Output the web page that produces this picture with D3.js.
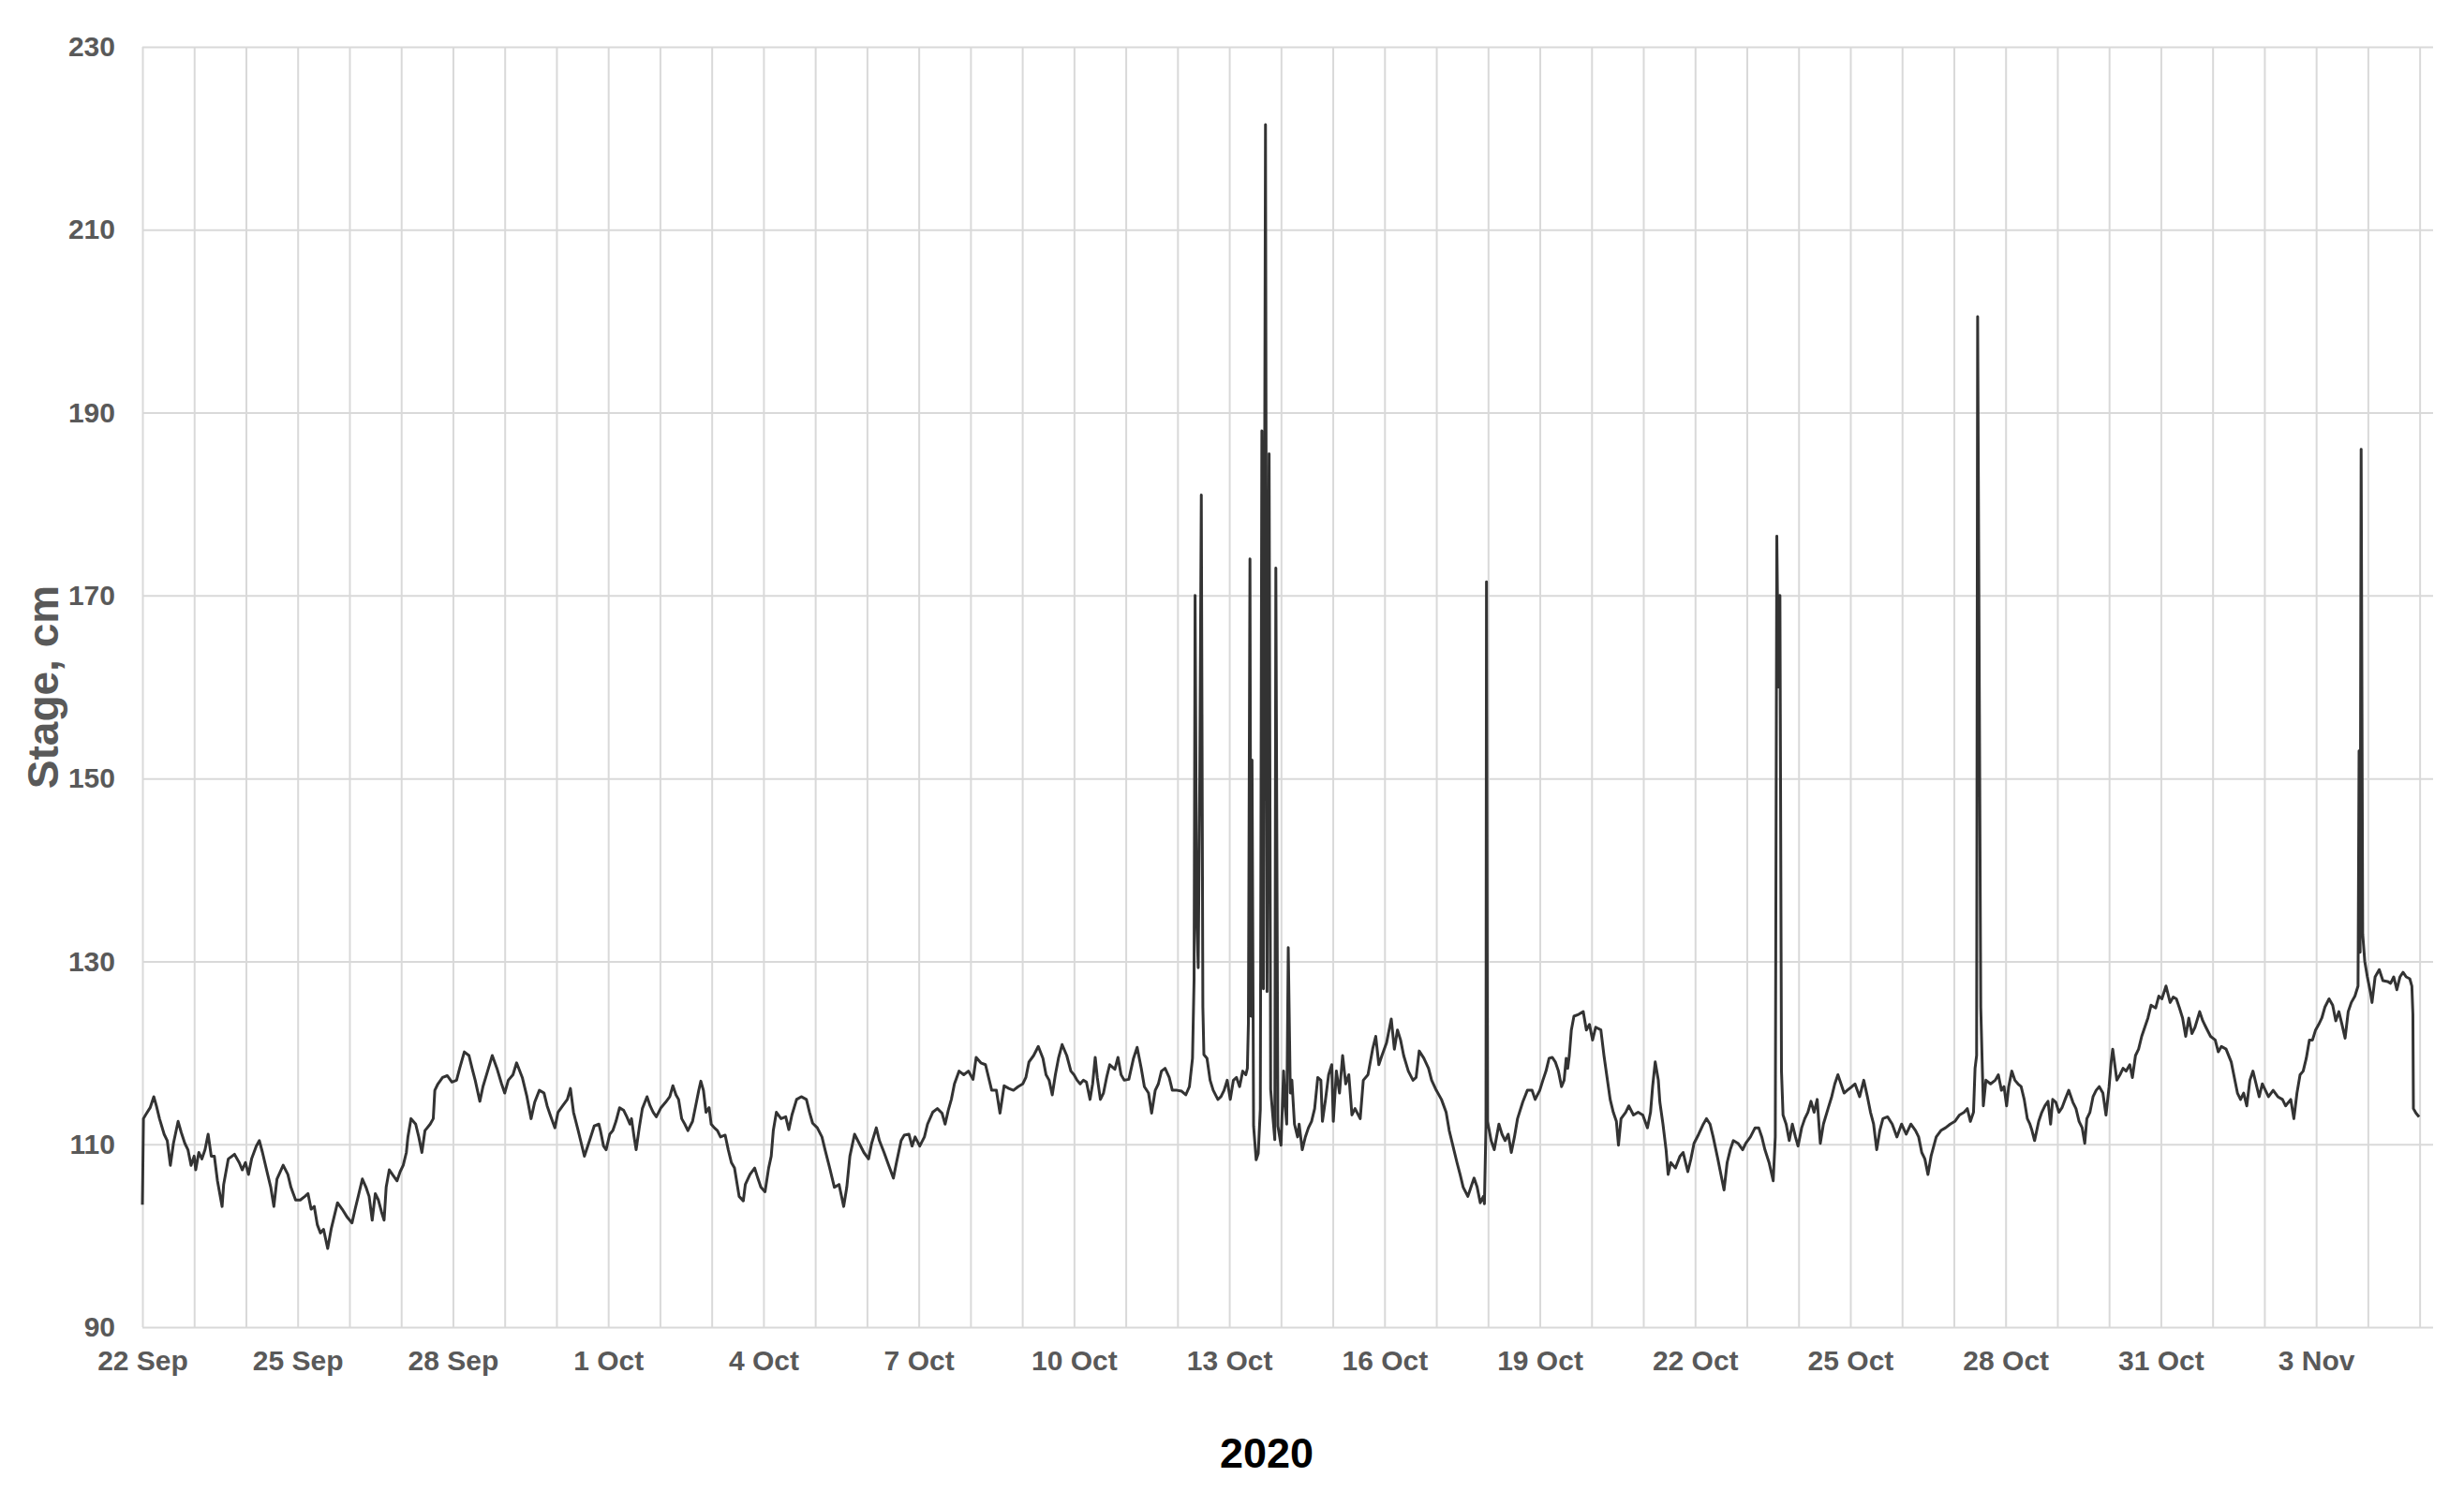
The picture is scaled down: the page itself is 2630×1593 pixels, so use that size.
<!DOCTYPE html>
<html>
<head>
<meta charset="utf-8">
<script src="https://cdn.jsdelivr.net/npm/d3@7"></script>
<style>
  body { margin: 0; background: #fff; }
  text { font-family: "Liberation Sans", Arial, sans-serif; }
</style>
</head>
<body>
<svg id="chart" width="2630" height="1593"></svg>
<script>
// start of the record, and how far the time axis runs (days)
const startDate = Date.UTC(2020, 8, 22);
const axisDays = 44.26;
const yTicks = [90, 110, 130, 150, 170, 190, 210, 230];
const labelStep = 3; // a date label every 3 days

// [days since 22 Sep 2020, stage in cm]
const sepEnd = [[0.00,103.4],[0.02,112.8],[0.06,113.2],[0.15,114.0],[0.22,115.2],[0.27,114.2],[0.33,112.8],[0.42,111.1],[0.48,110.4],[0.54,107.7],[0.60,110.1],[0.69,112.5],[0.75,111.3],[0.82,110.1],[0.88,109.4],[0.94,107.7],[1.00,108.7],[1.03,107.2],[1.09,109.1],[1.15,108.4],[1.21,109.4],[1.27,111.1],[1.33,108.7],[1.39,108.7],[1.45,106.0],[1.54,103.2],[1.57,105.6],[1.66,108.4],[1.78,108.9],[1.87,108.0],[1.93,107.2],[1.99,108.0],[2.05,106.7],[2.11,108.4],[2.20,109.8],[2.26,110.4],[2.32,109.1],[2.42,106.7],[2.48,105.3],[2.54,103.2],[2.60,106.2],[2.72,107.7],[2.81,106.7],[2.87,105.3],[2.96,103.9],[3.05,103.9],[3.14,104.3],[3.20,104.6],[3.26,102.9],[3.32,103.2],[3.38,101.2],[3.44,100.3],[3.50,100.7],[3.58,98.6],[3.65,100.8],[3.77,103.6],[3.86,102.9],[3.96,102.0],[4.05,101.4],[4.11,102.9],[4.17,104.3],[4.25,106.2],[4.32,105.3],[4.38,104.3],[4.44,101.7],[4.50,104.6],[4.56,103.9],[4.62,102.6],[4.67,101.7],[4.71,105.3],[4.77,107.2],[4.83,106.7],[4.92,106.0],[4.98,107.0],[5.04,107.7],[5.10,109.1],[5.13,110.8],[5.19,112.8],[5.28,112.2],[5.34,110.8],[5.40,109.1],[5.46,111.5],[5.56,112.2],[5.62,112.8],[5.65,115.9],[5.71,116.6],[5.80,117.3],[5.89,117.5],[5.98,116.8],[6.07,117.0],[6.13,118.3],[6.22,120.1],[6.31,119.7],[6.37,118.3],[6.43,117.0],[6.52,114.7],[6.58,116.3],[6.67,118.0],[6.76,119.7],[6.85,118.3],[6.94,116.6],[7.00,115.6],[7.07,117.0],[7.16,117.6],[7.23,118.9],[7.34,117.3],[7.43,115.2],[7.51,112.8],[7.58,114.6],[7.67,115.9],[7.76,115.6],[7.82,114.2],[7.88,113.2],[7.97,111.8],[8.03,113.5],[8.12,114.2],[8.21,114.9],[8.27,116.1],[8.33,113.5],[8.42,111.5],[8.48,110.1],[8.54,108.7],[8.64,110.4],[8.73,112.0],[8.82,112.2]];

const earlyOct = [[8.85,111.5],[8.91,109.8],[8.96,109.4],[9.03,111.1],[9.09,111.5],[9.15,112.5],[9.22,114.0],[9.30,113.7],[9.36,113.0],[9.42,112.2],[9.45,112.8],[9.50,110.8],[9.54,109.4],[9.60,111.8],[9.66,113.9],[9.75,115.2],[9.81,114.2],[9.87,113.5],[9.93,113.0],[10.02,114.0],[10.11,114.6],[10.19,115.2],[10.25,116.4],[10.31,115.4],[10.36,114.9],[10.42,112.8],[10.48,112.2],[10.54,111.5],[10.63,112.5],[10.69,114.2],[10.75,115.9],[10.79,116.9],[10.84,115.9],[10.89,113.5],[10.95,114.0],[10.99,112.2],[11.05,111.8],[11.11,111.5],[11.17,110.8],[11.26,111.0],[11.32,109.4],[11.38,108.0],[11.44,107.4],[11.53,104.3],[11.61,103.8],[11.65,105.6],[11.74,106.7],[11.83,107.4],[11.89,106.3],[11.95,105.3],[12.03,104.8],[12.10,107.4],[12.15,108.7],[12.19,111.5],[12.25,113.5],[12.34,112.8],[12.43,113.0],[12.49,111.6],[12.55,113.2],[12.64,114.9],[12.73,115.2],[12.83,114.9],[12.89,113.5],[12.95,112.3],[13.04,111.8],[13.13,110.8],[13.19,109.4],[13.28,107.4],[13.37,105.3],[13.46,105.6],[13.55,103.2],[13.61,105.3],[13.67,108.7],[13.76,111.1],[13.85,110.1],[13.94,109.1],[14.03,108.4],[14.09,110.1],[14.18,111.8],[14.24,110.4],[14.33,109.1],[14.42,107.7],[14.51,106.3],[14.57,108.0],[14.66,110.4],[14.72,111.0],[14.81,111.1],[14.87,109.8],[14.93,110.8],[15.02,109.8],[15.11,110.8],[15.17,112.2],[15.27,113.5],[15.36,113.9],[15.45,113.4],[15.51,112.2],[15.57,113.7],[15.63,114.9],[15.69,116.6],[15.78,118.0],[15.87,117.6],[15.96,118.0],[16.05,117.1],[16.11,119.5],[16.20,118.9],[16.29,118.7],[16.35,117.3],[16.41,115.9],[16.50,115.9],[16.57,113.4],[16.65,116.4],[16.74,116.1],[16.83,115.9],[16.92,116.3],[17.01,116.6],[17.07,117.3],[17.13,119.0],[17.22,119.7],[17.31,120.7],[17.40,119.4],[17.46,117.6],[17.52,117.0],[17.58,115.4],[17.64,117.6],[17.70,119.4],[17.77,120.9],[17.86,119.7]];

const midOct = [[17.94,118.0],[18.00,117.6],[18.06,117.0],[18.12,116.6],[18.18,117.0],[18.24,116.8],[18.31,114.9],[18.36,116.6],[18.41,119.5],[18.45,117.3],[18.51,114.9],[18.57,115.6],[18.63,117.3],[18.69,118.7],[18.79,118.2],[18.85,119.5],[18.91,117.6],[18.97,117.0],[19.06,117.1],[19.15,119.4],[19.22,120.6],[19.30,118.3],[19.36,116.3],[19.44,115.6],[19.50,113.4],[19.57,115.9],[19.63,116.6],[19.69,118.0],[19.76,118.3],[19.84,117.3],[19.90,115.9],[19.99,115.9],[20.08,115.8],[20.16,115.4],[20.23,116.3],[20.29,119.4],
  [20.32,128.0],[20.34,170.0],[20.37,135.0],[20.40,129.3],[20.43,150.0],[20.46,181.0],[20.49,125.0],
  [20.51,119.8],[20.57,119.4],[20.63,117.0],[20.69,115.9],[20.78,114.9],[20.84,115.2],[20.90,115.9],[20.96,117.0],[21.02,114.9],[21.08,117.0],[21.14,117.3],[21.20,116.3],[21.26,118.0],[21.32,117.6],[21.35,118.3],
  [21.37,123.3],[21.40,174.0],[21.42,124.0],[21.44,152.0],[21.47,112.0],[21.52,108.3],[21.56,109.0],[21.60,113.8],[21.63,188.0],[21.66,127.0],[21.70,221.5],[21.73,126.7],[21.77,185.5],[21.80,116.0],[21.84,113.2],[21.88,110.5],[21.90,173.0],[21.94,112.0],
  [22.00,109.9],[22.05,118.0],[22.08,114.2],[22.11,112.2],[22.14,131.5],[22.18,115.6],[22.21,117.0],[22.26,112.2],[22.32,110.8],[22.35,112.2],[22.41,109.4],[22.47,110.8],[22.53,111.8],[22.59,112.5],[22.65,113.9],[22.71,117.3],[22.77,117.0],[22.80,112.5],[22.86,114.9],[22.92,117.6],[22.98,118.7],[23.01,112.5],[23.07,118.0],[23.13,115.6],[23.19,119.7],[23.25,116.6],[23.31,117.6],[23.37,113.2],[23.43,113.9],[23.53,112.8],[23.59,117.0],[23.68,117.6],[23.77,120.4],[23.83,121.8],[23.89,118.7],[23.95,119.7],[24.04,121.1],[24.13,123.7],[24.19,120.4],[24.25,122.5],[24.31,121.4],[24.37,119.7],[24.46,118.0],[24.55,117.0],[24.61,117.3],[24.67,120.2],[24.76,119.4],[24.85,118.3],[24.91,117.0],[25.00,115.9],[25.10,114.9],[25.19,113.5],[25.25,111.5],[25.34,109.4],[25.40,108.0],[25.46,106.7],[25.52,105.3],[25.61,104.3],[25.67,105.3],[25.73,106.3],[25.79,105.3],[25.85,103.6],[25.91,104.3],[25.93,103.5],[25.96,112.0],[25.97,171.5],[25.99,112.5],[26.06,110.4],[26.12,109.4],[26.21,112.2],[26.27,111.1],[26.33,110.4],[26.39,111.1],[26.45,109.1],[26.51,110.8],[26.57,112.8],[26.67,114.6],[26.76,115.9],[26.85,115.9],[26.91,114.9]];

const lateOct = [[27.00,115.9],[27.06,117.0],[27.12,118.0],[27.18,119.4],[27.24,119.5],[27.30,119.0],[27.36,118.0],[27.42,116.3],[27.47,117.0],[27.51,119.4],[27.54,118.3],[27.57,119.7],[27.61,122.5],[27.66,124.0],[27.75,124.2],[27.84,124.5],[27.90,122.5],[27.96,123.1],[28.02,121.4],[28.08,122.8],[28.18,122.5],[28.24,119.7],[28.30,117.3],[28.36,114.9],[28.42,113.5],[28.48,112.5],[28.52,109.9],[28.57,112.8],[28.66,113.5],[28.72,114.2],[28.81,113.2],[28.90,113.5],[28.99,113.2],[29.08,111.8],[29.14,113.5],[29.18,116.3],[29.23,119.0],[29.29,117.0],[29.32,114.6],[29.38,112.2],[29.44,109.4],[29.48,106.7],[29.53,108.0],[29.62,107.4],[29.71,108.7],[29.77,109.1],[29.86,107.0],[29.92,108.4],[29.98,110.1],[30.07,111.1],[30.16,112.2],[30.22,112.8],[30.29,112.2],[30.35,110.8],[30.44,108.4],[30.50,106.7],[30.56,105.0],[30.62,108.0],[30.68,109.4],[30.74,110.4],[30.83,110.1],[30.92,109.4],[30.98,110.1],[31.07,110.8],[31.16,111.8],[31.23,111.8],[31.29,110.8],[31.35,109.4],[31.43,108.0],[31.51,106.0],[31.55,110.8],
  [31.58,176.5],[31.61,160.0],[31.64,170.0],[31.67,118.0],
  [31.70,113.2],[31.76,112.2],[31.82,110.4],[31.88,112.2],[31.94,110.8],[31.99,109.8],[32.06,111.8],[32.12,112.8],[32.18,113.5],[32.24,114.7],[32.30,113.5],[32.36,114.9],[32.42,110.1],[32.48,112.2],[32.57,113.9],[32.64,115.2],[32.70,116.6],[32.76,117.6],[32.82,116.6],[32.88,115.6],[32.94,115.9],[33.03,116.3],[33.09,116.6],[33.18,115.2],[33.26,117.0],[33.33,115.2],[33.39,113.5],[33.45,112.2],[33.51,109.4],[33.57,111.5],[33.63,112.8],[33.72,113.0],[33.81,112.2],[33.90,110.8],[33.99,112.2],[34.08,111.1],[34.17,112.2],[34.26,111.5],[34.32,110.8],[34.38,109.1],[34.44,108.4],[34.50,106.7],[34.56,108.7],[34.66,110.8],[34.75,111.5],[34.84,111.8],[34.93,112.2],[35.02,112.5],[35.11,113.2],[35.20,113.5],[35.26,113.9],[35.32,112.5],[35.38,113.5],[35.41,118.3],[35.44,119.7],
  [35.46,200.5],[35.52,125.0],[35.57,114.2],[35.62,117.0],[35.71,116.6],[35.80,117.0],[35.86,117.6],[35.92,115.9],[35.97,116.3]];

const earlyNov = [[36.02,114.2],[36.06,116.3],[36.12,118.0],[36.18,117.0],[36.24,116.6],[36.30,116.3],[36.36,114.9],[36.42,112.8],[36.47,112.2],[36.51,111.5],[36.56,110.4],[36.64,112.5],[36.70,113.5],[36.76,114.2],[36.82,114.7],[36.87,112.2],[36.91,114.9],[36.97,114.6],[37.03,113.5],[37.09,114.0],[37.15,114.9],[37.22,115.9],[37.30,114.6],[37.36,113.9],[37.42,112.5],[37.48,111.8],[37.53,110.1],[37.57,112.8],[37.63,113.5],[37.69,115.2],[37.75,115.9],[37.81,116.3],[37.88,115.6],[37.94,113.2],[38.00,116.3],[38.04,119.0],[38.07,120.4],[38.15,117.0],[38.21,117.6],[38.27,118.3],[38.33,118.0],[38.40,118.7],[38.45,117.3],[38.51,119.7],[38.57,120.4],[38.63,121.8],[38.69,122.8],[38.75,123.8],[38.81,125.2],[38.90,124.9],[38.96,126.2],[39.02,125.9],[39.10,127.3],[39.18,125.5],[39.24,126.1],[39.30,125.9],[39.36,124.9],[39.42,123.8],[39.48,121.8],[39.54,123.8],[39.60,122.1],[39.66,122.8],[39.75,124.5],[39.81,123.5],[39.87,122.8],[39.96,121.8],[40.05,121.4],[40.11,120.1],[40.17,120.7],[40.26,120.4],[40.36,119.0],[40.42,117.3],[40.48,115.6],[40.54,114.9],[40.60,115.6],[40.66,114.2],[40.72,117.0],[40.78,118.0],[40.84,116.6],[40.90,115.2],[40.96,116.6],[41.02,115.9],[41.08,115.2],[41.17,115.9],[41.26,115.2],[41.35,114.9],[41.41,114.2],[41.51,114.9],[41.57,112.8],[41.63,115.6],[41.69,117.6],[41.75,118.0],[41.81,119.4],[41.87,121.4],[41.93,121.4],[41.99,122.5],[42.05,123.1],[42.11,123.8],[42.17,125.0],[42.25,125.9],[42.32,125.2],[42.38,123.5],[42.44,124.5],[42.50,123.1],[42.56,121.6],[42.62,124.5],[42.68,125.5],[42.75,126.2],[42.81,127.3],
  [42.83,153.0],[42.85,131.0],[42.87,186.0],[42.90,133.0],[42.94,130.0],
  [42.99,128.3],[43.05,126.6],[43.08,125.5],[43.14,128.3],[43.22,129.1],[43.29,127.9],[43.38,127.8],[43.44,127.6],[43.50,128.3],[43.56,126.9],[43.62,128.3],[43.68,128.8],[43.74,128.3],[43.81,128.1],[43.85,127.3],[43.87,124.2],[43.88,113.9],[43.93,113.4],[43.99,113.0]];

const DAY = 864e5;
const data = [].concat(sepEnd, earlyOct, midOct, lateOct, earlyNov).map(function(d) {
    return { date: new Date(startDate + d[0] * DAY), value: d[1] };
});

var margin = { top: 50, right: 33, bottom: 176, left: 152 },
    width = 2630 - margin.left - margin.right,
    height = 1593 - margin.top - margin.bottom;

var svg = d3.select("#chart")
    .append("g")
    .attr("transform", "translate(" + margin.left + "," + margin.top + ")");

var x = d3.scaleUtc()
    .domain([new Date(startDate), new Date(startDate + axisDays * DAY)])
    .range([0, width]);
var y = d3.scaleLinear().domain([90, 230]).range([height, 0]);

const dayTicks = d3.utcDay.range(x.domain()[0], x.domain()[1]);
const labelTicks = dayTicks.filter(function(d, i) { return i % labelStep === 0; });

// gridlines
svg.append("g")
    .attr("class", "grid-x")
    .attr("transform", "translate(0," + height + ")")
    .call(d3.axisBottom(x).tickValues(dayTicks).tickSize(-height).tickFormat(""))
    .call(g => g.select(".domain").remove());
svg.append("g")
    .attr("class", "grid-y")
    .call(d3.axisLeft(y).tickValues(yTicks).tickSize(-width).tickFormat(""))
    .call(g => g.select(".domain").remove());
svg.selectAll(".grid-x line, .grid-y line")
    .attr("stroke", "#d9d9d9")
    .attr("stroke-width", 2);

// axis labels
svg.append("g")
    .attr("transform", "translate(0," + height + ")")
    .call(d3.axisBottom(x).tickValues(labelTicks).tickSize(0).tickPadding(25)
        .tickFormat(d3.utcFormat("%-d %b")))
    .call(g => g.select(".domain").remove());
svg.append("g")
    .call(d3.axisLeft(y).tickValues(yTicks).tickSize(0).tickPadding(29))
    .call(g => g.select(".domain").remove());
svg.selectAll(".tick text")
    .attr("font-family", '"Liberation Sans", Arial, sans-serif')
    .attr("font-size", 30)
    .attr("font-weight", "bold")
    .attr("fill", "#595959");

// the stage line
var valueline = d3.line()
    .x(function(d) { return x(d.date); })
    .y(function(d) { return y(d.value); });

svg.append("path")
    .datum(data)
    .attr("fill", "none")
    .attr("stroke", "#333")
    .attr("stroke-width", 3)
    .attr("stroke-linejoin", "round")
    .attr("d", valueline);

// titles
d3.select("#chart").append("text")
    .attr("transform", "translate(62," + (margin.top + height / 2) + ") rotate(-90)")
    .attr("text-anchor", "middle")
    .attr("font-size", 46)
    .attr("font-weight", "bold")
    .attr("fill", "#595959")
    .text("Stage, cm");

d3.select("#chart").append("text")
    .attr("x", 1352)
    .attr("y", 1567)
    .attr("text-anchor", "middle")
    .attr("font-size", 45)
    .attr("font-weight", "bold")
    .attr("fill", "#000")
    .text("2020");
</script>
</body>
</html>
